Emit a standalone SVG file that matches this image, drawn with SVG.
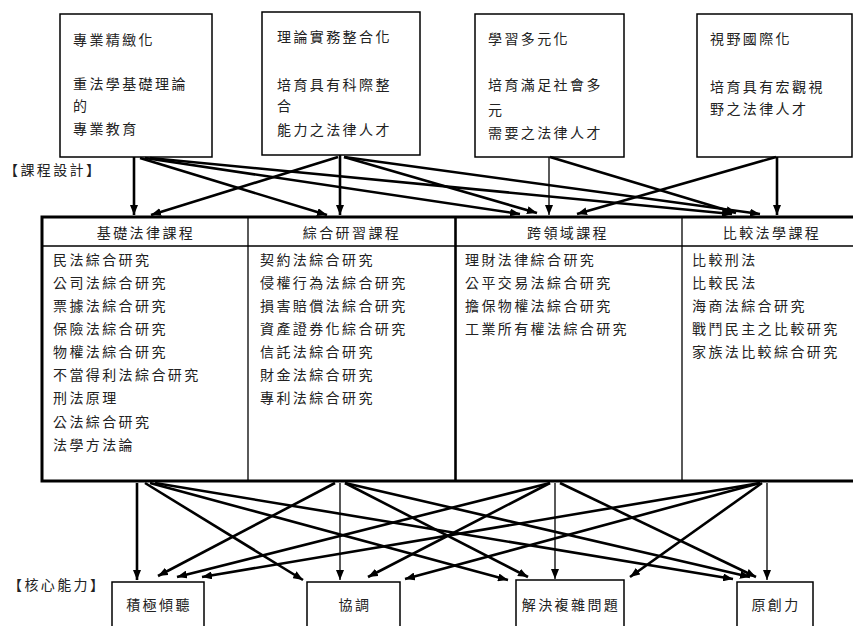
<svg xmlns="http://www.w3.org/2000/svg" width="853" height="626" viewBox="0 0 853 626">
<defs>
<marker id="ah" viewBox="0 0 10 8" markerWidth="10" markerHeight="8" refX="10" refY="4" orient="auto" markerUnits="userSpaceOnUse">
<path d="M0,0 L10,4 L0,8 z" fill="#000"/>
</marker>
</defs>
<style>
text{font-family:"Noto Sans CJK TC","Noto Sans CJK SC",sans-serif;font-size:14px;letter-spacing:2.4px;fill:#222}
.box{fill:#fff;stroke:#000;stroke-width:1.5}
.thk{stroke:#000;stroke-width:2.6;fill:none;marker-end:url(#ah)}
.thn{stroke:#000;stroke-width:1.3;fill:none;marker-end:url(#ah)}
.mid{text-anchor:middle}
</style>
<rect width="853" height="626" fill="#fff"/>

<g id="goal1">
<rect class="box" x="60" y="14" width="152" height="143"/>
<text x="73" y="45">專業精緻化</text>
<text x="73" y="89">重法學基礎理論</text>
<text x="73" y="111">的</text>
<text x="73" y="134">專業教育</text>
</g>
<g id="goal2">
<rect class="box" x="262" y="12" width="158" height="143"/>
<text x="277" y="42">理論實務整合化</text>
<text x="277" y="90">培育具有科際整</text>
<text x="277" y="111">合</text>
<text x="277" y="135">能力之法律人才</text>
</g>
<g id="goal3">
<rect class="box" x="475" y="14" width="149" height="143"/>
<text x="488" y="44">學習多元化</text>
<text x="488" y="90">培育滿足社會多</text>
<text x="488" y="115">元</text>
<text x="488" y="138">需要之法律人才</text>
</g>
<g id="goal4">
<rect class="box" x="697" y="14" width="155" height="143"/>
<text x="710" y="44">視野國際化</text>
<text x="710" y="92">培育具有宏觀視</text>
<text x="710" y="114">野之法律人才</text>
</g>

<g id="label-design"><text x="4" y="175">【課程設計】</text></g>
<g id="label-core"><text x="8" y="590">【核心能力】</text></g>

<g id="curriculum">
<rect x="42" y="217" width="822" height="264" fill="#fff" stroke="#000" stroke-width="3"/>
<line x1="42" y1="246" x2="864" y2="246" stroke="#000" stroke-width="1.3"/>
<line x1="248" y1="217" x2="248" y2="481" stroke="#000" stroke-width="1.3"/>
<line x1="455.5" y1="217" x2="455.5" y2="481" stroke="#000" stroke-width="2.6"/>
<line x1="682" y1="217" x2="682" y2="481" stroke="#000" stroke-width="1.3"/>
<text class="mid" x="146" y="238">基礎法律課程</text>
<text class="mid" x="352" y="238">綜合研習課程</text>
<text class="mid" x="568" y="238">跨領域課程</text>
<text class="mid" x="772" y="238">比較法學課程</text>
<g id="col1">
<text x="53" y="265">民法綜合研究</text>
<text x="53" y="288">公司法綜合研究</text>
<text x="53" y="311">票據法綜合研究</text>
<text x="53" y="334">保險法綜合研究</text>
<text x="53" y="357">物權法綜合研究</text>
<text x="53" y="380">不當得利法綜合研究</text>
<text x="53" y="403">刑法原理</text>
<text x="53" y="427">公法綜合研究</text>
<text x="53" y="450">法學方法論</text>
</g>
<g id="col2">
<text x="260" y="265">契約法綜合研究</text>
<text x="260" y="288">侵權行為法綜合研究</text>
<text x="260" y="311">損害賠償法綜合研究</text>
<text x="260" y="334">資產證券化綜合研究</text>
<text x="260" y="357">信託法綜合研究</text>
<text x="260" y="380">財金法綜合研究</text>
<text x="260" y="403">專利法綜合研究</text>
</g>
<g id="col3">
<text x="465" y="265">理財法律綜合研究</text>
<text x="465" y="288">公平交易法綜合研究</text>
<text x="465" y="311">擔保物權法綜合研究</text>
<text x="465" y="334">工業所有權法綜合研究</text>
</g>
<g id="col4">
<text x="692" y="265">比較刑法</text>
<text x="692" y="288">比較民法</text>
<text x="692" y="311">海商法綜合研究</text>
<text x="692" y="334">戰鬥民主之比較研究</text>
<text x="692" y="357">家族法比較綜合研究</text>
</g>
</g>

<g id="ability1">
<rect class="box" x="112" y="582" width="92" height="60"/>
<text class="mid" x="159" y="610">積極傾聽</text>
</g>
<g id="ability2">
<rect class="box" x="307" y="582" width="93" height="60"/>
<text class="mid" x="355" y="610">協調</text>
</g>
<g id="ability3">
<rect class="box" x="516" y="580" width="108" height="60"/>
<text class="mid" x="571" y="610">解決複雜問題</text>
</g>
<g id="ability4">
<rect class="box" x="737" y="582" width="76" height="60"/>
<text class="mid" x="776" y="610">原創力</text>
</g>

<g id="connectors">
<line class="thk" x1="134" y1="157" x2="134" y2="215"/>
<line class="thk" x1="140" y1="158" x2="327" y2="215"/>
<line class="thk" x1="145" y1="158" x2="520" y2="214"/>
<line class="thk" x1="150" y1="158" x2="732" y2="214"/>
<line class="thk" x1="340" y1="155" x2="340" y2="215"/>
<line class="thk" x1="338" y1="157" x2="151" y2="215"/>
<line class="thk" x1="344" y1="157" x2="537" y2="213"/>
<line class="thk" x1="344" y1="157" x2="760" y2="214"/>
<line class="thn" x1="549" y1="157" x2="549" y2="215"/>
<line class="thk" x1="550" y1="157" x2="736" y2="213"/>
<line class="thk" x1="777" y1="157" x2="777" y2="215"/>
<line class="thk" x1="776" y1="157" x2="577" y2="214"/>

<line class="thk" x1="137" y1="483" x2="137" y2="580"/>
<line class="thk" x1="145" y1="483" x2="303" y2="580"/>
<line class="thk" x1="150" y1="483" x2="508" y2="580"/>
<line class="thk" x1="155" y1="483" x2="733" y2="579"/>
<line class="thk" x1="335" y1="483" x2="158" y2="576"/>
<line class="thn" x1="340" y1="483" x2="340" y2="580"/>
<line class="thk" x1="345" y1="483" x2="528" y2="577"/>
<line class="thk" x1="345" y1="483" x2="750" y2="577"/>
<line class="thk" x1="550" y1="483" x2="177" y2="577"/>
<line class="thk" x1="550" y1="483" x2="368" y2="577"/>
<line class="thn" x1="555" y1="483" x2="555" y2="579"/>
<line class="thk" x1="560" y1="483" x2="756" y2="577"/>
<line class="thk" x1="760" y1="483" x2="202" y2="577"/>
<line class="thk" x1="760" y1="483" x2="405" y2="579"/>
<line class="thk" x1="762" y1="483" x2="630" y2="577"/>
<line class="thn" x1="767" y1="483" x2="767" y2="580"/>
</g>
</svg>
